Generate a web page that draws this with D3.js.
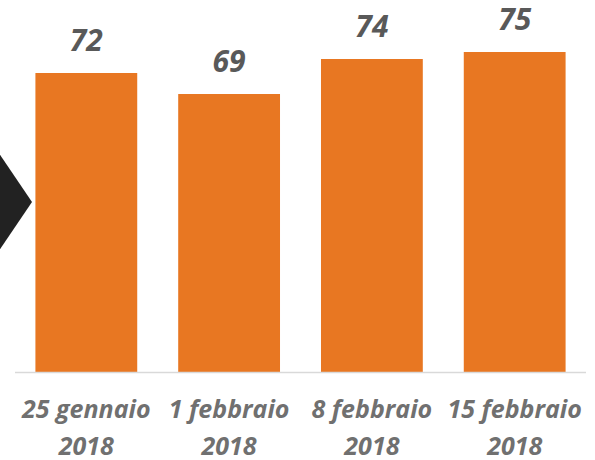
<!DOCTYPE html>
<html>
<head>
<meta charset="utf-8">
<script src="https://cdn.jsdelivr.net/npm/d3@7"></script>
<style>
  html, body { margin: 0; padding: 0; background: #fff; }
  svg { display: block; font-family: "Open Sans", "Noto Sans", sans-serif; }
</style>
</head>
<body>
<div id="chart"></div>
<script>
// Chart data
var categories = ["25 gennaio", "1 febbraio", "8 febbraio", "15 febbraio"];
var years      = ["2018", "2018", "2018", "2018"];
var values     = [72, 69, 74, 75];

var width  = 595,
    height = 460,
    baseY  = 372;

var svg = d3.select("#chart")
  .append("svg")
    .attr("width", width)
    .attr("height", height);

// Decorative dark arrow on the left edge
svg.append("path")
  .attr("d", "M-12,137 L32,202 L-12,267 Z")
  .style("fill", "#222222");

// Scales
var x = d3.scaleBand()
  .domain(categories)
  .range([15, 586])
  .paddingInner(0.287)
  .paddingOuter(0.143);

var y = d3.scaleLinear()
  .domain([29.3, 75])
  .range([baseY, 52]);

// Bars
svg.append("g")
  .selectAll("rect")
  .data(values)
  .enter()
  .append("rect")
    .attr("x", function(d, i) { return x(categories[i]); })
    .attr("y", function(d) { return y(d); })
    .attr("width", x.bandwidth())
    .attr("height", function(d) { return baseY - y(d); })
    .style("fill", "#E87722");

// Baseline
svg.append("line")
  .attr("x1", x.range()[0]).attr("x2", x.range()[1])
  .attr("y1", baseY + 0.5).attr("y2", baseY + 0.5)
  .style("stroke", "#d9d9d9")
  .style("stroke-width", 1.5);

// Value labels
svg.append("g")
  .selectAll("text")
  .data(values)
  .enter()
  .append("text")
    .attr("x", function(d, i) { return x(categories[i]) + x.bandwidth() / 2; })
    .attr("y", function(d) { return y(d) - 22; })
    .attr("text-anchor", "middle")
    .style("font-size", "30px")
    .style("font-weight", "bold")
    .style("font-style", "italic")
    .style("fill", "#595959")
    .text(function(d) { return d; });

// Category labels (two lines)
var cat = svg.append("g")
  .selectAll("text")
  .data(categories)
  .enter()
  .append("text")
    .attr("text-anchor", "middle")
    .style("font-size", "25px")
    .style("font-weight", "bold")
    .style("font-style", "italic")
    .style("fill", "#707070");

cat.append("tspan")
  .attr("x", function(d) { return x(d) + x.bandwidth() / 2; })
  .attr("y", 418)
  .text(function(d) { return d; });

cat.append("tspan")
  .attr("x", function(d) { return x(d) + x.bandwidth() / 2; })
  .attr("y", 455)
  .text(function(d, i) { return years[i]; });
</script>
</body>
</html>
